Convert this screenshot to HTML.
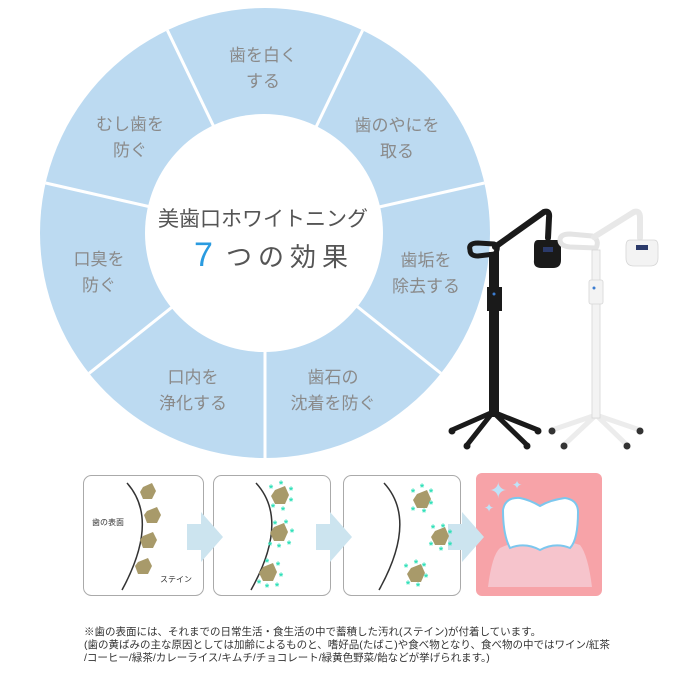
<!DOCTYPE html>
<html><head><meta charset="utf-8"><style>
body{margin:0;background:#fff;width:687px;height:699px;overflow:hidden;position:relative;font-family:"Liberation Sans","Noto Sans CJK JP",sans-serif}
.note{position:absolute;left:84px;top:626px;font-size:10.5px;line-height:13px;color:#333;white-space:nowrap}
</style></head><body>
<svg width="687" height="699" style="position:absolute;left:0;top:0" font-family="Liberation Sans, Noto Sans CJK JP, sans-serif">
<circle cx="265" cy="233" r="225" fill="#bcdaf1"/>
<g stroke="#fff" stroke-width="3">
<line x1="265" y1="233" x2="167.4" y2="30.3"/>
<line x1="265" y1="233" x2="362.6" y2="30.3"/>
<line x1="265" y1="233" x2="484.4" y2="183"/>
<line x1="265" y1="233" x2="440.9" y2="373.3"/>
<line x1="265" y1="233" x2="265" y2="460"/>
<line x1="265" y1="233" x2="89.1" y2="373.3"/>
<line x1="265" y1="233" x2="45.6" y2="183"/>
</g>
<circle cx="264" cy="233" r="119" fill="#fff"/>
<g fill="#8a8a8a" font-size="17" text-anchor="middle">
<text x="263" y="61">歯を白く</text><text x="263" y="87">する</text>
<text x="397" y="131">歯のやにを</text><text x="397" y="157">取る</text>
<text x="426" y="266">歯垢を</text><text x="426" y="292">除去する</text>
<text x="333" y="383">歯石の</text><text x="333" y="409">沈着を防ぐ</text>
<text x="193" y="383">口内を</text><text x="193" y="409">浄化する</text>
<text x="99" y="265">口臭を</text><text x="99" y="291">防ぐ</text>
<text x="130" y="130">むし歯を</text><text x="130" y="156">防ぐ</text>
</g>
<text x="263" y="226" font-size="21" fill="#555" text-anchor="middle">美歯口ホワイトニング</text>
<text x="194" y="266" font-size="34" fill="#2a9be0">7</text>
<text x="226" y="266" font-size="26" fill="#555" letter-spacing="6">つの効果</text>
<!-- black stand -->
<g stroke="#1a1a1a" fill="none" stroke-linecap="round">
<path d="M470 250 Q468 243 478 243 L494 244 Q500 246 495 254 L478 256 Q470 256 470 250Z" stroke-width="5"/>
<path d="M495 247 L544 212 Q550 210 549 218 L548 238" stroke-width="6"/>
<path d="M493 412 L452 430 M493 412 L467 445 M493 412 L527 445 M493 412 L538 430" stroke-width="5"/>
</g>
<g fill="#1a1a1a">
<rect x="489" y="252" width="10" height="165"/>
<rect x="487" y="287" width="15" height="24"/>
<path d="M538 240 h20 q3 0 3 6 v14 q0 8 -8 8 h-12 q-8 0 -7 -8 v-14 q0 -6 4 -6z"/>
<circle cx="452" cy="431" r="3.5"/><circle cx="467" cy="446" r="3.5"/><circle cx="527" cy="446" r="3.5"/><circle cx="538" cy="431" r="3.5"/>
</g>
<rect x="543" y="247" width="10" height="5" fill="#2b3a6a"/>
<circle cx="494" cy="294" r="1.5" fill="#3b7cd0"/>
<!-- white stand -->
<g stroke="#dcdcdc" fill="none" stroke-linecap="round">
<path d="M560 240 Q560 234 570 234 L592 236 Q600 240 596 248 L570 247 Q560 246 560 240Z" stroke-width="5" stroke="#e4e4e4"/>
<path d="M594 237 L634 212 Q640 210 640 218 L640 238" stroke-width="6" stroke="#e8e8e8"/>
<path d="M596 415 L552 430 M596 415 L564 445 M596 415 L627 445 M596 415 L640 430" stroke-width="5" stroke="#ececec"/>
</g>
<g fill="#f3f3f3" stroke="#d6d6d6" stroke-width="0.8">
<rect x="592" y="250" width="8" height="168"/>
<rect x="589" y="280" width="14" height="24" rx="2"/>
<path d="M630 240 h24 q4 0 4 6 v12 q0 8 -8 8 h-16 q-8 0 -8 -8 v-12 q0 -6 4 -6z"/>
</g>
<g fill="#333"><circle cx="552" cy="431" r="3.5"/><circle cx="564" cy="446" r="3.5"/><circle cx="627" cy="446" r="3.5"/><circle cx="640" cy="431" r="3.5"/></g>
<rect x="636" y="245" width="12" height="5" fill="#2b3a6a"/>
<circle cx="594" cy="288" r="1.5" fill="#3b7cd0"/>
<!-- panels -->
<g fill="#fff" stroke="#aaa" stroke-width="1">
<rect x="83.5" y="475.5" width="120" height="120" rx="8"/>
<rect x="213.5" y="475.5" width="117" height="120" rx="8"/>
<rect x="343.5" y="475.5" width="117" height="120" rx="8"/>
</g>
<rect x="476" y="473" width="126" height="123" rx="6" fill="#f7a3a8"/>
<g fill="#cce4ef">
<path d="M187 524 h14 v-12 l22 25 l-22 25 v-12 h-14z"/>
<path d="M316 524 h14 v-12 l22 25 l-22 25 v-12 h-14z"/>
<path d="M448 524 h14 v-12 l22 25 l-22 25 v-12 h-14z"/>
</g>
<g fill="none" stroke="#333" stroke-width="1.5">
<path d="M127 483 Q160 520 122 590"/>
<path d="M256 483 Q290 520 251 590"/>
<path d="M384 483 Q418 520 379 590"/>
</g>
<g fill="#a89a6a">
<polygon points="143,487 152,483 156,491 152,499 143,499 140,492"/>
<polygon points="147,511 157,507 161,515 157,523 147,523 144,515"/>
<polygon points="143,536 153,532 157,540 153,548 143,548 140,540"/>
<polygon points="138,562 148,558 152,566 148,574 138,574 135,566"/>
<polygon points="275,490 285,486 289,495 285,504 275,504 271,496"/>
<polygon points="274,527 284,523 288,532 284,541 274,541 270,533"/>
<polygon points="263,567 273,563 277,572 273,581 263,581 259,573"/>
<polygon points="417,494 427,490 431,499 427,508 417,508 413,500"/>
<polygon points="435,531 445,527 449,536 445,545 435,545 431,537"/>
<polygon points="411,568 421,564 425,573 421,582 411,582 407,574"/>
</g>
<g fill="#2ee0b8" font-size="11" font-weight="bold" text-anchor="middle">
<text x="271" y="492">*</text><text x="281" y="488">*</text><text x="291" y="494">*</text><text x="291" y="505">*</text><text x="283" y="514">*</text><text x="273" y="511">*</text>
<text x="275" y="528">*</text><text x="286" y="527">*</text><text x="292" y="536">*</text><text x="289" y="548">*</text><text x="279" y="551">*</text><text x="270" y="549">*</text>
<text x="267" y="566">*</text><text x="278" y="569">*</text><text x="281" y="580">*</text><text x="277" y="590">*</text><text x="267" y="591">*</text><text x="259" y="587">*</text>
<text x="413" y="496">*</text><text x="422" y="491">*</text><text x="431" y="496">*</text><text x="431" y="508">*</text><text x="424" y="516">*</text><text x="413" y="514">*</text>
<text x="433" y="532">*</text><text x="443" y="531">*</text><text x="450" y="537">*</text><text x="450" y="549">*</text><text x="441" y="554">*</text><text x="431" y="549">*</text>
<text x="406" y="571">*</text><text x="416" y="567">*</text><text x="424" y="570">*</text><text x="426" y="581">*</text><text x="418" y="590">*</text><text x="408" y="588">*</text>
</g>
<text x="92" y="525" font-size="8" fill="#333">歯の表面</text>
<text x="160" y="582" font-size="8" fill="#333">ステイン</text>
<!-- tooth -->
<path d="M488 587 Q492 555 500 548 Q520 538 540 545 Q560 538 580 545 Q588 555 592 587Z" fill="#f6c4cc"/>
<path d="M503 510 Q505 497 520 498 Q530 500 540 506 Q550 500 565 498 Q578 500 578 512 Q578 540 570 548 Q555 542 540 550 Q525 542 510 548 Q503 535 503 510Z" fill="#fff" stroke="#7cc7ee" stroke-width="2"/>
<g fill="#bfe3f8"><text x="489" y="498" font-size="22">✦</text><text x="512" y="489" font-size="12">✦</text><text x="484" y="512" font-size="12">✦</text></g>
</svg>
<div class="note">※歯の表面には、それまでの日常生活・食生活の中で蓄積した汚れ(ステイン)が付着しています。<br>(歯の黄ばみの主な原因としては加齢によるものと、嗜好品(たばこ)や食べ物となり、食べ物の中ではワイン/紅茶<br>/コーヒー/緑茶/カレーライス/キムチ/チョコレート/緑黄色野菜/飴などが挙げられます。)</div>
</body></html>
